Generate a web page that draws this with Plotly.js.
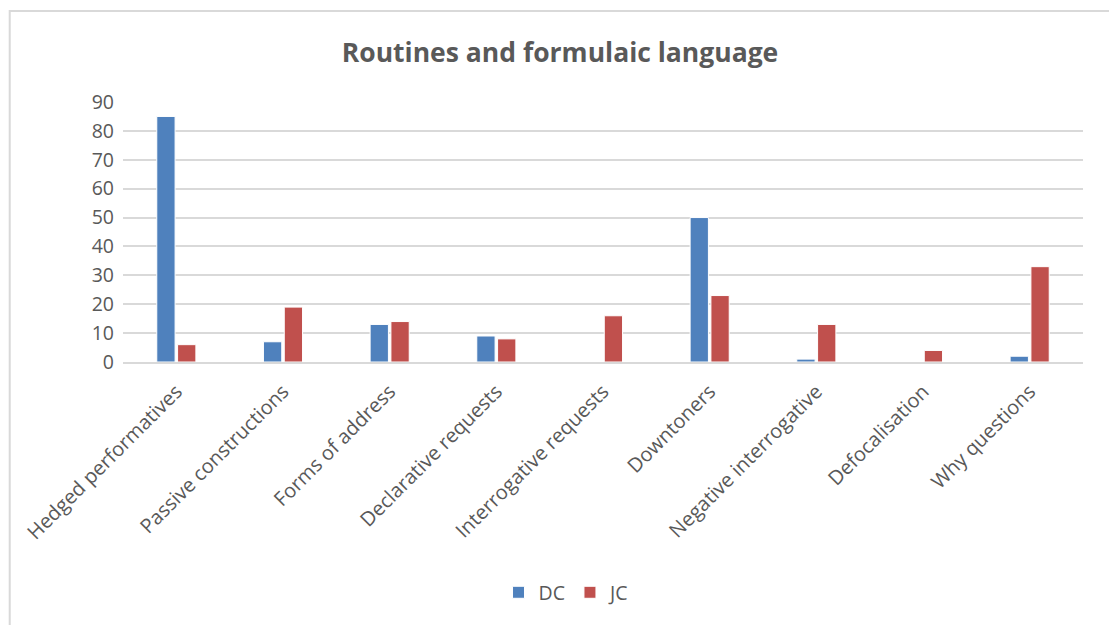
<!DOCTYPE html>
<html>
<head>
<meta charset="utf-8">
<script src="https://cdn.plot.ly/plotly-3.0.1.min.js"></script>
<style>html,body{margin:0;padding:0;background:#fff;}#chart{width:1109px;height:625px;}</style>
</head>
<body>
<div id="chart"></div>
<script>
const categories = ["Hedged performatives","Passive constructions","Forms of address","Declarative requests","Interrogative requests","Downtoners","Negative interrogative","Defocalisation","Why questions"];
const dcValues = [85, 7, 13, 9, 0, 50, 1, 0, 2];
const jcValues = [6, 19, 14, 8, 16, 23, 13, 4, 33];
const yTicks = [0,10,20,30,40,50,60,70,80,90];

const font = "'Open Sans', 'Liberation Sans', sans-serif";
const traces = [
  {type:'bar', name:'DC', x:categories, y:dcValues, marker:{color:'#4f81bd', line:{color:'#ffffff', width:1}}},
  {type:'bar', name:'JC', x:categories, y:jcValues, marker:{color:'#c0504d', line:{color:'#ffffff', width:1}}}
];
const layout = {
  width:1109, height:625,
  margin:{l:123, r:26, t:102, b:261},
  paper_bgcolor:'#fff', plot_bgcolor:'#fff',
  title:{text:'<b>Routines and formulaic language</b>', x:0.505, xref:'container', xanchor:'center', y:0.915, yanchor:'middle', font:{family:font, size:26.5, color:'#595959'}},
  barmode:'group', bargap:0.61, bargroupgap:0.12,
  font:{family:font, color:'#595959'},
  xaxis:{tickangle:-45, tickfont:{size:20, color:'#595959'}, showline:true, linecolor:'#d9d9d9', linewidth:2, ticks:'', showgrid:false, ticklabelstandoff:8},
  yaxis:{range:[0,90], tickvals:yTicks, tickfont:{size:19.5, color:'#595959'}, showgrid:true, gridcolor:'#d9d9d9', gridwidth:2, zeroline:false, showline:false, ticks:'', ticklen:0, ticklabelstandoff:8},
  showlegend:true,
  legend:{orientation:'h', x:0.462, xanchor:'center', y:-0.887, yanchor:'middle', font:{size:19.5, color:'#595959'}, itemwidth:30},
  shapes:[{type:'rect', xref:'paper', yref:'paper', x0:-0.118, x1:1.1, y0:-1.2, y1:1.35, line:{color:'#d9d9d9', width:2}, fillcolor:'rgba(0,0,0,0)'}]
};
Plotly.newPlot('chart', traces, layout, {displayModeBar:false});
</script>
</body>
</html>
